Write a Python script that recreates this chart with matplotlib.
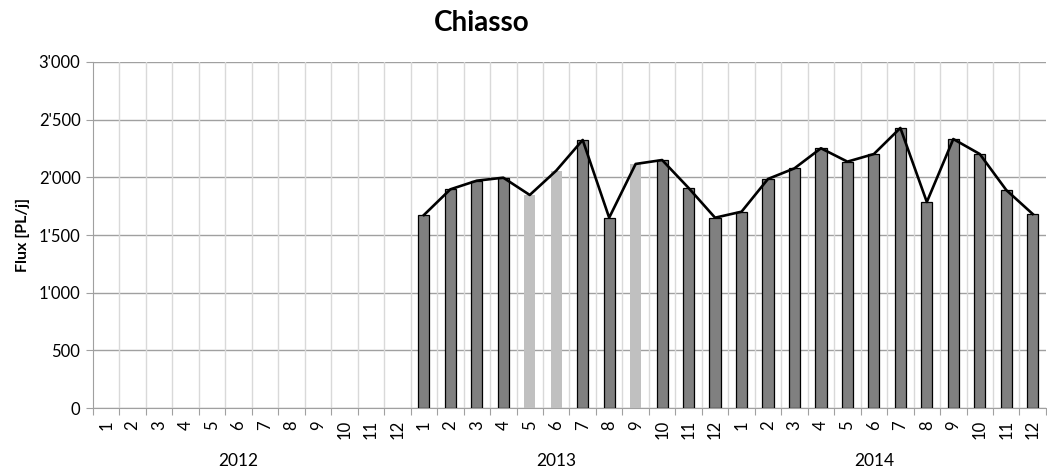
import numpy as np
import matplotlib.pyplot as plt

plt.rcParams['font.family'] = ['Lato', 'DejaVu Sans']

years = ['2012', '2013', '2014']
months = [str(m) for m in range(1, 13)]

flux_2012 = [np.nan] * 12
flux_2013 = [1673, 1896, 1971, 1997, 1847, 2058, 2324, 1650, 2116, 2150, 1908, 1650]
flux_2014 = [1702, 1986, 2078, 2252, 2136, 2202, 2428, 1786, 2332, 2202, 1890, 1682]

# months with estimated values (light bars)
estimated_2013 = [5, 6, 9]

values = np.array(flux_2012 + flux_2013 + flux_2014, dtype=float)
estimated = np.zeros(36, dtype=bool)
for m in estimated_2013:
    estimated[12 + m - 1] = True

x = np.arange(36)

fig = plt.figure(figsize=(10.47, 4.75), dpi=100)
ax = fig.add_axes([0.0888, 0.141, 0.9102, 0.7285])

dark = ~estimated & ~np.isnan(values)
ax.bar(x[dark], values[dark], width=0.42, color='#808080', edgecolor='black', linewidth=0.9, zorder=3)
ax.bar(x[estimated], values[estimated], width=0.42, color='#c0c0c0', edgecolor='none', zorder=3)
ax.plot(x, values, color='black', linewidth=1.9, zorder=4)

ax.set_xlim(-0.5, 35.5)
ax.set_ylim(0, 3000)
ax.set_yticks(np.arange(0, 3001, 500))
ax.set_yticklabels([f"{v:,}".replace(',', "'") for v in range(0, 3001, 500)], fontsize=12)

# grid: vertical lines at category boundaries, horizontal at y ticks
for b in np.arange(0.5, 35.5, 1):
    ax.axvline(b, color='#d9d9d9', linewidth=1, zorder=1)
ax.yaxis.grid(True, color='#a0a0a0', linewidth=1, zorder=2)
ax.set_axisbelow(True)

ax.set_xticks(np.arange(-0.5, 36, 1))
ax.set_xticklabels([])
ax.tick_params(axis='x', length=5, color='#a0a0a0')
ax.tick_params(axis='y', length=5, color='#a0a0a0', pad=4)
for i, lab in enumerate(months * 3):
    ax.text(i, -0.035, lab, transform=ax.get_xaxis_transform(), rotation=90,
            ha='center', va='top', fontsize=12)
for k, yr in enumerate(years):
    ax.text(k * 12 + 5.0, -0.153, yr, transform=ax.get_xaxis_transform(),
            ha='center', va='center', fontsize=12.5)

for side in ['top', 'right']:
    ax.spines[side].set_visible(False)
ax.spines['left'].set_color('#a0a0a0')
ax.spines['bottom'].set_color('#a0a0a0')

ax.set_ylabel('Flux [PL/j]', fontsize=11.5, fontweight='bold', labelpad=6)
fig.text(0.46, 0.952, 'Chiasso', ha='center', va='center', fontsize=20, fontweight='bold')

fig.savefig('out.png', dpi=100)
